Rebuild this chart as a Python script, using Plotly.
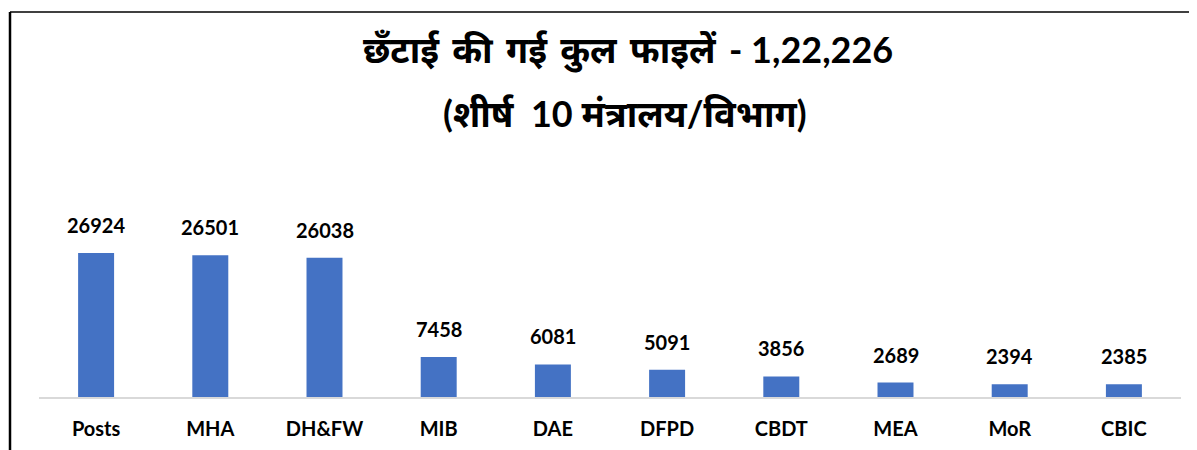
import plotly.graph_objects as go

categories = ["Posts", "MHA", "DH&FW", "MIB", "DAE", "DFPD", "CBDT", "MEA", "MoR", "CBIC"]
values = [26924, 26501, 26038, 7458, 6081, 5091, 3856, 2689, 2394, 2385]
title_words1 = ["छँटाई", "की", "गई", "कुल", "फाइलें"]
title_total = "- 1,22,226"
title_line2 = "(शीर्ष  10 मंत्रालय/विभाग)"

# page body has an 8px margin; reference pixel coords are converted by OFF
OFF = 8
W, H = 1197, 450
ml = 39 - OFF
mr = W - (1181 - OFF)
mt = 150 - OFF
mb = H - (397 - OFF)
pw = W - ml - mr
ph = H - mt - mb

def px_x(x):
    return (x - OFF - ml) / pw

def px_y(y):
    return (H - mb - (y - OFF)) / ph

FONT = "Lato, 'Open Sans', 'Noto Sans', sans-serif"

fig = go.Figure()
fig.add_trace(go.Bar(
    x=categories, y=values,
    marker=dict(color="#4472C4", line=dict(width=0)),
    hoverinfo="x+y",
))

for c, v in zip(categories, values):
    fig.add_annotation(x=c, y=v, text=f"<b>{v}</b>", showarrow=False,
                       yanchor="bottom", yshift=14,
                       font=dict(family=FONT, size=20, color="#000000"))

# wider word gaps in the Hindi part, as in the original
line1 = "\u2009 ".join(title_words1) + "\u2009 " + title_total

fig.add_annotation(xref="paper", yref="paper", x=px_x(628), y=px_y(50),
                   text=f"<b>{line1}</b>", showarrow=False,
                   xanchor="center", yanchor="middle",
                   font=dict(family=FONT, size=36, color="#000000"))
fig.add_annotation(xref="paper", yref="paper", x=px_x(625), y=px_y(113),
                   text=f"<b>{title_line2}</b>", showarrow=False,
                   xanchor="center", yanchor="middle",
                   font=dict(family=FONT, size=36, color="#000000"))

# frame lines
fig.add_shape(type="line", xref="paper", yref="paper",
              x0=px_x(10), x1=px_x(1205), y0=px_y(12), y1=px_y(12),
              line=dict(color="#404040", width=2))
fig.add_shape(type="line", xref="paper", yref="paper",
              x0=px_x(10), x1=px_x(10), y0=px_y(12), y1=px_y(460),
              line=dict(color="#000000", width=2.5))

fig.update_layout(
    width=W, height=H,
    margin=dict(l=ml, r=mr, t=mt, b=mb),
    paper_bgcolor="white", plot_bgcolor="white",
    bargap=0.685,
    showlegend=False,
    xaxis=dict(showline=True, linecolor="#D9D9D9", linewidth=1.5,
               ticks="outside", ticklen=13, tickcolor="rgba(0,0,0,0)",
               tickfont=dict(family=FONT, size=20, color="#000000"),
               tickprefix="<b>", ticksuffix="</b>",
               showgrid=False, zeroline=False),
    yaxis=dict(range=[0, 46180], visible=False, showgrid=False, zeroline=False),
)

fig.write_html("out.html")
